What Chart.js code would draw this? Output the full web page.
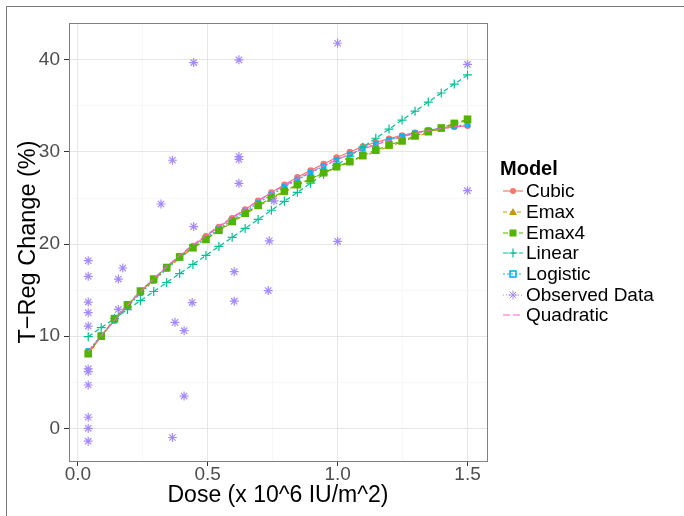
<!DOCTYPE html>
<html lang="en">
<head>
  <meta charset="UTF-8">
  <title>T-Reg Change by Dose</title>
  <script src="https://cdn.jsdelivr.net/npm/chart.js"></script>
  <style>
    html, body { margin: 0; padding: 0; background: #fff; }
    body { font-family: 'Liberation Sans', Arial, sans-serif; }
    .wrap { position: relative; width: 684px; height: 516px; }
    .legend { position: absolute; left: 500px; top: 156px; color: #000; }
    .legend h4 { margin: 0 0 1px 0; font-size: 20px; font-weight: bold; line-height: 24px; }
    .legend .item { display: flex; align-items: center; height: 20.7px; font-size: 19px; }
    .legend svg { margin-left: 3px; margin-right: 3px; }
  </style>
</head>
<body>
<div class="wrap">
  <canvas id="doseChart"></canvas>
  <div class="legend" id="legend"><h4>Model</h4></div>
</div>

<script>
// dose grid used for the model predictions
const doses = [0.040, 0.090, 0.141, 0.191, 0.241, 0.292, 0.342, 0.392, 0.443, 0.493,
               0.543, 0.594, 0.644, 0.694, 0.745, 0.795, 0.845, 0.896, 0.946, 0.996,
               1.047, 1.097, 1.147, 1.198, 1.248, 1.298, 1.349, 1.399, 1.449, 1.500];

const cubic = [8.2, 10.0, 11.7, 13.3, 14.8, 16.2, 17.5, 18.7, 19.8, 20.85,
               21.85, 22.8, 23.75, 24.7, 25.6, 26.45, 27.25, 28.0, 28.7, 29.4,
               30.0, 30.6, 31.05, 31.45, 31.8, 32.1, 32.35, 32.55, 32.7, 32.85];
const emax = [8.0, 10.0, 11.8, 13.35, 14.8, 16.1, 17.35, 18.5, 19.55, 20.5,
              21.45, 22.35, 23.25, 24.1, 24.9, 25.65, 26.35, 27.05, 27.7, 28.3,
              28.9, 29.5, 30.05, 30.6, 31.1, 31.6, 32.1, 32.55, 33.0, 33.45];
const emax4 = [8.1, 10.0, 11.9, 13.4, 14.9, 16.2, 17.45, 18.6, 19.6, 20.5,
               21.5, 22.45, 23.35, 24.2, 25.0, 25.75, 26.45, 27.1, 27.75, 28.4,
               28.95, 29.6, 30.2, 30.75, 31.2, 31.75, 32.2, 32.6, 33.1, 33.55];
const linear = [9.95, 10.92, 11.92, 12.89, 13.86, 14.85, 15.83, 16.80, 17.79, 18.77,
                19.74, 20.73, 21.70, 22.68, 23.67, 24.64, 25.62, 26.61, 27.58, 28.55,
                29.55, 30.52, 31.49, 32.48, 33.46, 34.43, 35.42, 36.40, 37.37, 38.36];
const logistic = [8.4, 10.1, 11.7, 13.2, 14.65, 16.0, 17.3, 18.5, 19.6, 20.65,
                  21.65, 22.6, 23.55, 24.45, 25.35, 26.2, 27.0, 27.75, 28.45, 29.15,
                  29.75, 30.35, 30.85, 31.3, 31.7, 32.05, 32.35, 32.6, 32.8, 32.95];
const quadratic = [8.3, 10.05, 11.75, 13.35, 14.85, 16.25, 17.55, 18.8, 19.9, 20.95,
                   21.95, 22.9, 23.8, 24.7, 25.55, 26.35, 27.1, 27.8, 28.5, 29.15,
                   29.75, 30.3, 30.8, 31.25, 31.65, 32.0, 32.3, 32.55, 32.75, 32.9];

// observed data
const obsX = [0.04, 0.04, 0.04, 0.04, 0.04, 0.04, 0.04, 0.04, 0.04, 0.04, 0.04,
              0.156, 0.156, 0.173, 0.32, 0.364, 0.364, 0.374, 0.409, 0.409, 0.44,
              0.446, 0.446, 0.602, 0.602, 0.62, 0.62, 0.62, 0.62, 0.733, 0.737,
              0.755, 1.0, 1.0, 1.5, 1.5];
const obsY = [18.2, 16.5, 13.7, 12.55, 11.1, 6.45, 6.15, 4.7, 1.2, 0.0, -1.4,
              16.2, 12.9, 17.4, 24.35, 29.1, -1.0, 11.5, 10.6, 3.5, 13.65,
              39.7, 21.9, 17.0, 13.8, 40.0, 29.5, 29.2, 26.6, 14.95, 20.35,
              24.7, 41.8, 20.3, 39.5, 25.8];

const xMajor = [0, 0.5, 1.0, 1.5];
const xMinor = [0.25, 0.75, 1.25];
const xTickLabels = ['0.0', '0.5', '1.0', '1.5'];
const yMajor = [0, 10, 20, 30, 40];
const yMinor = [5, 15, 25, 35];
const yTickLabels = ['0', '10', '20', '30', '40'];

// z: higher number = drawn later (on top)
const series = [
  { label: 'Cubic', data: cubic, color: '#F8766D', shape: 'circle', r: 3.2, dash: [], z: 1 },
  { label: 'Emax', data: emax, color: '#C49A00', shape: 'triangle', r: 4.2, dash: [4, 3], z: 3 },
  { label: 'Emax4', data: emax4, color: '#53B400', shape: 'rect', r: 5.4, dash: [5, 3], z: 5 },
  { label: 'Linear', data: linear, color: '#00C094', shape: 'cross', r: 4.5, dash: [5, 3], z: 4 },
  { label: 'Logistic', data: logistic, color: '#00B6EB', shape: 'rect', r: 4.0, dash: [2, 2], z: 2 },
  { label: 'Observed Data', obs: true, color: '#A58AFF', shape: 'star', r: 4.5, dash: [1, 2], z: 6 },
  { label: 'Quadratic', data: quadratic, color: '#FB61D7', shape: false, r: 0, dash: [7, 3], z: 7 }
];

const datasets = series.map((s) => {
  const pts = s.obs
    ? obsX.map((x, j) => ({ x: x, y: obsY[j] }))
    : doses.map((x, j) => ({ x: x, y: s.data[j] }));
  return {
    label: s.label,
    data: pts,
    showLine: !s.obs,
    borderColor: s.color,
    backgroundColor: s.color,
    borderWidth: 1.2,
    borderDash: s.dash,
    pointStyle: s.shape,
    pointRadius: s.r,
    pointBorderWidth: (s.shape === 'star' || s.shape === 'cross') ? 1.2 : 0,
    pointBackgroundColor: s.color,
    pointBorderColor: s.color,
    order: 10 - s.z
  };
});

function isIn(arr, v) {
  return arr.some(a => Math.abs(a - v) < 1e-6);
}

const frame = {
  id: 'frame',
  afterDraw(chart) {
    const ctx = chart.ctx;
    const a = chart.chartArea;
    ctx.save();
    ctx.strokeStyle = '#808080';
    ctx.lineWidth = 1;
    ctx.strokeRect(Math.round(a.left) + 0.5, Math.round(a.top) + 0.5,
                   Math.round(a.right - a.left), Math.round(a.bottom - a.top));
    ctx.strokeStyle = '#777';
    ctx.beginPath();
    ctx.moveTo(6.5, 516);
    ctx.lineTo(6.5, 6.5);
    ctx.lineTo(684, 6.5);
    ctx.stroke();
    ctx.restore();
  }
};

const gridColor = (major) => (c) => isIn(major, c.tick.value) ? '#E6E6E6' : '#F3F3F3';
const gridWidth = (major) => (c) => isIn(major, c.tick.value) ? 1 : 0.7;
const tickColor = (major) => (c) => isIn(major, c.tick.value) ? '#333333' : 'rgba(0,0,0,0)';

new Chart(document.getElementById('doseChart'), {
  type: 'scatter',
  data: { datasets: datasets },
  options: {
    responsive: true,
    maintainAspectRatio: false,
    animation: false,
    layout: { padding: { left: 0, top: 23, right: 197, bottom: 0 } },
    plugins: { legend: { display: false }, tooltip: { enabled: false } },
    scales: {
      x: {
        type: 'linear',
        min: -0.034,
        max: 1.575,
        afterBuildTicks: (s) => { s.ticks = xMajor.concat(xMinor).sort((a, b) => a - b).map(v => ({ value: v })); },
        afterFit: (s) => { s.height = 55; },
        border: { display: false },
        grid: { color: gridColor(xMajor), lineWidth: gridWidth(xMajor), tickColor: tickColor(xMajor), tickLength: 5 },
        ticks: {
          padding: 0,
          color: '#4D4D4D',
          font: { family: "'Liberation Sans', Arial, sans-serif", size: 19, lineHeight: 0.9 },
          maxRotation: 0,
          autoSkip: false,
          callback: (v) => { const k = xMajor.findIndex(m => Math.abs(m - v) < 1e-6); return k >= 0 ? xTickLabels[k] : ''; }
        },
        title: {
          display: true,
          text: 'Dose (x 10^6 IU/m^2)',
          color: '#000',
          font: { family: "'Liberation Sans', Arial, sans-serif", size: 23, lineHeight: 1.2 },
          padding: { top: 0, bottom: 7 }
        }
      },
      y: {
        min: -3.55,
        max: 44,
        afterBuildTicks: (s) => { s.ticks = yMajor.concat(yMinor).sort((a, b) => a - b).map(v => ({ value: v })); },
        afterFit: (s) => { s.width = 69; },
        border: { display: false },
        grid: { color: gridColor(yMajor), lineWidth: gridWidth(yMajor), tickColor: tickColor(yMajor), tickLength: 5 },
        ticks: {
          padding: 4,
          color: '#4D4D4D',
          font: { family: "'Liberation Sans', Arial, sans-serif", size: 19 },
          autoSkip: false,
          callback: (v) => { const k = yMajor.indexOf(v); return k >= 0 ? yTickLabels[k] : ''; }
        },
        title: {
          display: true,
          text: 'T\u2212Reg Change (%)',
          color: '#000',
          font: { family: "'Liberation Sans', Arial, sans-serif", size: 23.5, lineHeight: 1.2 },
          padding: { top: 14, bottom: 0 }
        }
      }
    }
  },
  plugins: [frame]
});

// legend: line + marker keys drawn as small svg
function keySvg(s) {
  const c = s.color;
  let mark = '';
  if (s.shape === 'circle') mark = `<circle cx="10" cy="7" r="3" fill="${c}"/>`;
  if (s.shape === 'triangle') mark = `<polygon points="10,3 14,10 6,10" fill="${c}"/>`;
  if (s.shape === 'rect' && s.label === 'Emax4') mark = `<rect x="6.5" y="3.5" width="7" height="7" fill="${c}"/>`;
  if (s.shape === 'rect' && s.label === 'Logistic') mark = `<rect x="7" y="4" width="6" height="6" fill="none" stroke="${c}" stroke-width="1.6"/>`;
  if (s.shape === 'cross') mark = `<path d="M10 2.5V11.5M5.5 7H14.5" stroke="${c}" stroke-width="1.2"/>`;
  if (s.shape === 'star') mark = `<path d="M10 2.5V11.5M5.5 7H14.5M6.8 3.8L13.2 10.2M13.2 3.8L6.8 10.2" stroke="${c}" stroke-width="1"/>`;
  const dash = s.dash.length ? s.dash.join(',') : 'none';
  return `<svg width="20" height="14" viewBox="0 0 20 14">` +
    `<line x1="0" y1="7" x2="20" y2="7" stroke="${c}" stroke-width="1.2" stroke-dasharray="${dash}"/>` +
    mark + `</svg>`;
}

const legend = document.getElementById('legend');
series.forEach(s => {
  const row = document.createElement('div');
  row.className = 'item';
  row.innerHTML = keySvg(s) + '<span>' + s.label + '</span>';
  legend.appendChild(row);
});
</script>
</body>
</html>
